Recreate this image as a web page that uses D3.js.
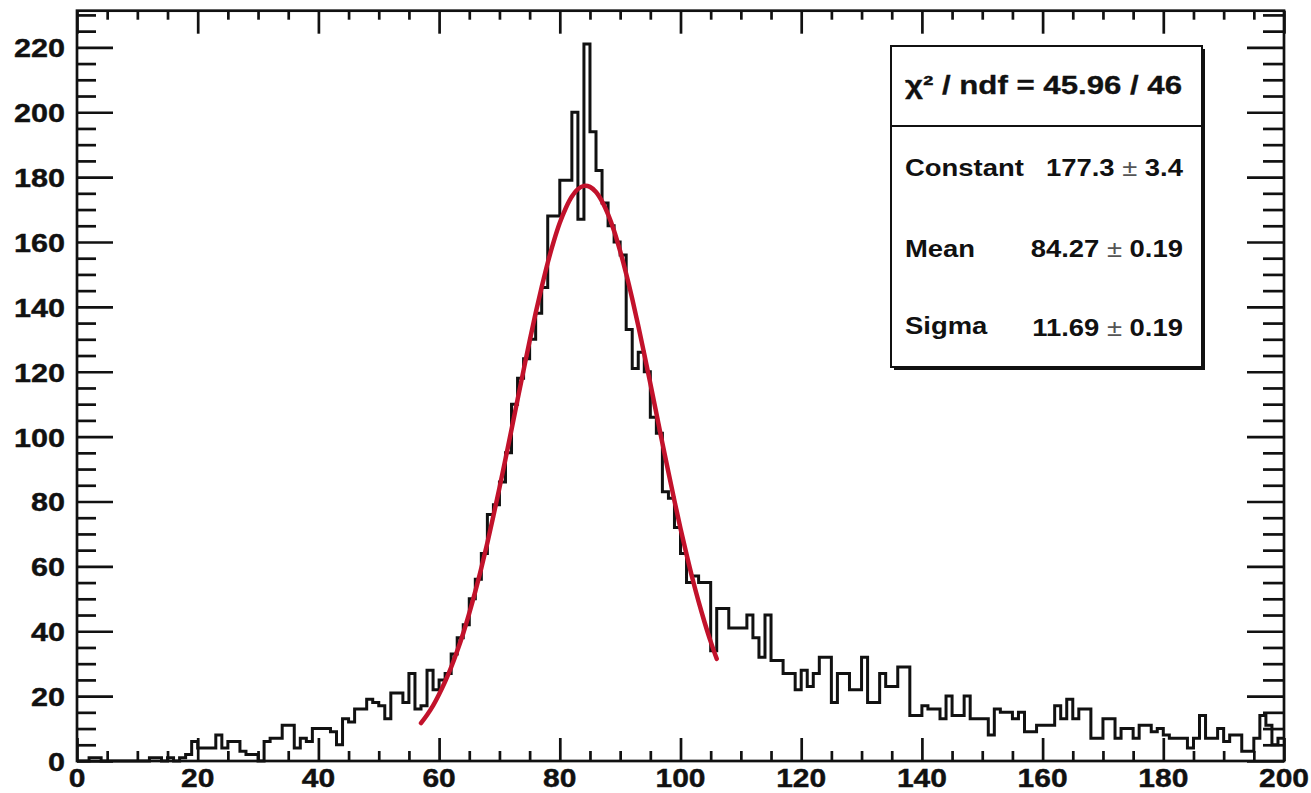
<!DOCTYPE html>
<html>
<head>
<meta charset="utf-8">
<script src="https://cdn.jsdelivr.net/npm/d3@7"></script>
<style>
  body { margin: 0; background: #fff; }
  svg text { font-family: "Liberation Sans", Arial, sans-serif; font-weight: bold; fill: #111; }
</style>
</head>
<body>
<div id="container"></div>
<script>
// histogram contents, one entry per bin of width 1 from 0 to 200
var counts = [
  0, 0, 1, 1, 0, 0, 0, 0, 0, 0,
  0, 0, 1, 1, 0, 1, 0, 1, 2, 6,
  4, 4, 4, 8, 4, 6, 6, 3, 2, 2,
  0, 6, 7, 7, 11, 11, 4, 7, 6, 10,
  10, 10, 9, 5, 13, 12, 16, 16, 19, 18,
  17, 13, 21, 21, 18, 27, 16, 17, 28, 22,
  25, 27, 33, 38, 42, 50, 56, 64, 76, 79,
  86, 95, 110, 118, 124, 130, 138, 146, 168, 168,
  179, 179, 200, 167, 221, 194, 182, 172, 165, 160,
  156, 133, 121, 126, 120, 106, 101, 83, 81, 72,
  64, 55, 57, 55, 55, 34, 47, 47, 41, 41,
  41, 45, 38, 32, 45, 31, 31, 27, 27, 22,
  28, 23, 27, 32, 32, 18, 27, 27, 22, 22,
  32, 18, 18, 27, 23, 23, 29, 29, 14, 14,
  17, 16, 16, 13, 20, 14, 14, 20, 13, 13,
  13, 8, 16, 15, 15, 13, 15, 9, 9, 11,
  11, 11, 17, 13, 19, 13, 16, 16, 7, 7,
  13, 13, 7, 10, 10, 7, 11, 11, 9, 10,
  8, 7, 7, 7, 4, 7, 14, 7, 7, 10,
  6, 8, 8, 3, 3, 7, 14, 11, 5, 7
];
var binStart = 0;
var binWidth = 1;

var fitX = [57, 58, 59, 60, 61, 62, 63, 64, 65, 66, 67, 68, 69, 70, 71, 72, 73, 74, 75, 76,
  77, 78, 79, 80, 81, 82, 83, 84, 85, 86, 87, 88, 89, 90, 91, 92, 93, 94, 95, 96,
  97, 98, 99, 100, 101, 102, 103, 104, 105, 106];
var fitY = [11.7, 14.2, 17.1, 20.6, 24.5, 28.9, 33.9, 39.4, 45.6, 52.3, 59.5, 67.3, 75.6, 84.2, 93.1, 102.2, 111.4, 120.5, 129.5, 138.1,
  146.1, 153.6, 160.2, 165.9, 170.5, 174.0, 176.3, 177.3, 177.0, 175.4, 172.5, 168.5, 163.4, 157.2, 150.2, 142.5, 134.2, 125.4, 116.4, 107.2,
  98.0, 89.0, 80.2, 71.7, 63.7, 56.1, 49.1, 42.7, 36.8, 31.5];

var xTicks = [0, 20, 40, 60, 80, 100, 120, 140, 160, 180, 200];
var yTicks = [0, 20, 40, 60, 80, 100, 120, 140, 160, 180, 200, 220];

var chiText = "\u03C7\u00B2 / ndf = 45.96 / 46";
var statNames = ["Constant", "Mean", "Sigma"];
var statValues = ["177.3", "84.27", "11.69"];
var statErrors = ["3.4", "0.19", "0.19"];

var w = 1311;
var h = 793;
var plotLeft = 77, plotRight = 1284, plotTop = 10.7, plotBottom = 761;

var xScale = d3.scaleLinear().domain([0, 200]).range([plotLeft, plotRight]);
var yScale = d3.scaleLinear().domain([0, 231.3]).range([plotBottom, plotTop]);

var svg = d3
  .select("#container")
  .append("svg")
  .attr("width", w)
  .attr("height", h)
  .style("display", "block");

svg.append("rect").attr("width", w).attr("height", h).attr("fill", "#fff");

// ticks on all four sides, pointing into the frame
var xMinor = d3.range(0, 201, 5).filter((v) => v % 20 !== 0);
var yMinor = d3.range(0, 231, 5).filter((v) => v % 20 !== 0);

function tickAxis(axis, tx, ty) {
  var g = svg.append("g").attr("transform", "translate(" + tx + "," + ty + ")").call(axis);
  g.select(".domain").remove();
  g.selectAll(".tick line").attr("stroke", "#111").attr("stroke-width", 2.7);
  g.selectAll(".tick text").remove();
}

tickAxis(d3.axisLeft(yScale).tickValues(yTicks).tickSize(-36).tickFormat(""), plotLeft, 0);
tickAxis(d3.axisLeft(yScale).tickValues(yMinor).tickSize(-19).tickFormat(""), plotLeft, 0);
tickAxis(d3.axisRight(yScale).tickValues(yTicks).tickSize(-37).tickFormat(""), plotRight, 0);
tickAxis(d3.axisRight(yScale).tickValues(yMinor).tickSize(-21).tickFormat(""), plotRight, 0);
tickAxis(d3.axisBottom(xScale).tickValues(xTicks).tickSize(-23).tickFormat(""), 0, plotBottom);
tickAxis(d3.axisBottom(xScale).tickValues(xMinor).tickSize(-10).tickFormat(""), 0, plotBottom);
tickAxis(d3.axisTop(xScale).tickValues(xTicks).tickSize(-23).tickFormat(""), 0, plotTop);
tickAxis(d3.axisTop(xScale).tickValues(xMinor).tickSize(-9).tickFormat(""), 0, plotTop);

// tick labels (the picture's font is a bit stretched sideways)
svg
  .selectAll(".ylab")
  .data(yTicks)
  .enter()
  .append("g")
  .attr("class", "ylab")
  .attr("transform", (d) => "translate(65," + (yScale(d) + 10) + ") scale(1.2,1)")
  .append("text")
  .attr("text-anchor", "end")
  .style("font-size", "25.5px")
  .style("stroke", "#111")
  .style("stroke-width", 0.4)
  .text((d) => d);

svg
  .selectAll(".xlab")
  .data(xTicks)
  .enter()
  .append("g")
  .attr("class", "xlab")
  .attr("transform", (d) => "translate(" + xScale(d) + ",787) scale(1.2,1)")
  .append("text")
  .attr("text-anchor", "middle")
  .style("font-size", "25px")
  .style("stroke", "#111")
  .style("stroke-width", 0.4)
  .text((d) => d);

// histogram outline
var pts = counts.map((c, i) => [binStart + i * binWidth, c]);
pts.push([binStart + counts.length * binWidth, counts[counts.length - 1]]);

var stepLine = d3
  .line()
  .x((d) => xScale(d[0]))
  .y((d) => yScale(d[1]))
  .curve(d3.curveStepAfter);

svg
  .append("path")
  .attr("d", stepLine(pts))
  .attr("fill", "none")
  .attr("stroke", "#111")
  .attr("stroke-width", 3)
  .attr("stroke-linejoin", "miter");

// gaussian fit
var fitLine = d3
  .line()
  .x((d, i) => xScale(fitX[i]))
  .y((d) => yScale(d))
  .curve(d3.curveCatmullRom);

svg
  .append("path")
  .attr("d", fitLine(fitY))
  .attr("fill", "none")
  .attr("stroke", "#c2122b")
  .attr("stroke-width", 4.5)
  .attr("stroke-linecap", "round");

// frame
svg
  .append("rect")
  .attr("x", plotLeft)
  .attr("y", plotTop)
  .attr("width", plotRight - plotLeft)
  .attr("height", plotBottom - plotTop)
  .attr("fill", "none")
  .attr("stroke", "#111")
  .attr("stroke-width", 2.7);

// stats box
var bx = 891, by = 46, bw = 311, bh = 321;
svg.append("rect").attr("x", bx + 3).attr("y", by + 3).attr("width", bw).attr("height", bh).attr("fill", "#111");
svg
  .append("rect")
  .attr("x", bx)
  .attr("y", by)
  .attr("width", bw)
  .attr("height", bh)
  .attr("fill", "#fff")
  .attr("stroke", "#111")
  .attr("stroke-width", 2);
svg
  .append("line")
  .attr("x1", bx)
  .attr("x2", bx + bw)
  .attr("y1", 126)
  .attr("y2", 126)
  .attr("stroke", "#111")
  .attr("stroke-width", 2);

svg
  .append("g")
  .attr("transform", "translate(" + (bx + bw / 2 - 3) + ",94) scale(1.2,1)")
  .append("text")
  .attr("text-anchor", "middle")
  .style("font-size", "26px")
  .style("stroke", "#111")
  .style("stroke-width", 0.3)
  .text(chiText);

var rowY = [176, 257, 334];
statNames.forEach((name, i) => {
  svg
    .append("g")
    .attr("transform", "translate(905," + rowY[i] + ") scale(1.12,1)")
    .append("text")
    .style("font-size", "24.5px")
    .text(name);
  var t = svg
    .append("g")
    .attr("transform", "translate(1183," + (rowY[i] + (i === 2 ? 2 : 0)) + ") scale(1.12,1)")
    .append("text")
    .attr("text-anchor", "end")
    .style("font-size", "24.5px");
  t.append("tspan").text(statValues[i] + " ");
  t.append("tspan").style("font-weight", "normal").style("fill", "#555").text("\u00B1");
  t.append("tspan").text(" " + statErrors[i]);
});
</script>
</body>
</html>
